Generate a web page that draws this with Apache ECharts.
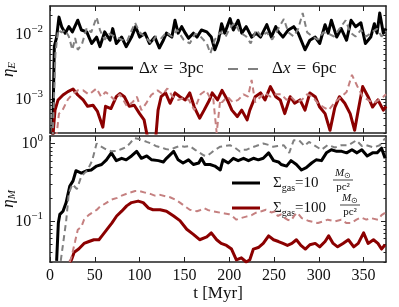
<!DOCTYPE html>
<html><head><meta charset="utf-8">
<script src="https://cdn.jsdelivr.net/npm/echarts@6/dist/echarts.min.js"></script>
<style>html,body{margin:0;padding:0;background:#fff}#c{width:399px;height:307px}</style>
</head><body><div id="c"></div>
<script>
// ---------- data (time in Myr, efficiencies) ----------
// top panel: energy loading eta_E
const tE_3pc_10 = [3,4.8,7.4,10,13,17,21,25,31,35,41,46.5,52,55.8,61,67,70,74,80,85,91,95.6,100,106,111,117,122,126.5,130,136,139.5,143,147,151,154.6,160,164,169,175,180,184,188,191.5,195,201,204.6,210,214,219,225,230,235,242,247,252,255,260,266,272,277,284.6,290,296,301,307,310.5,314,320,325,331,336,341,347,352,358,362,365,368,372,375];
const etaE_3pc_10 = [0.00025,0.0066,0.0093,0.019,0.0135,0.0107,0.0135,0.0112,0.017,0.012,0.0112,0.0074,0.0093,0.0066,0.0112,0.0083,0.0126,0.0074,0.0093,0.0066,0.0093,0.0135,0.0093,0.0107,0.0074,0.0093,0.0063,0.0083,0.0107,0.0093,0.017,0.0107,0.0135,0.0107,0.0089,0.0107,0.0093,0.012,0.0112,0.0093,0.0059,0.0083,0.015,0.0107,0.018,0.012,0.017,0.0107,0.0135,0.0093,0.0107,0.0093,0.0145,0.0093,0.0135,0.0112,0.0093,0.012,0.0135,0.0107,0.0059,0.0083,0.0093,0.0074,0.0145,0.0107,0.017,0.0093,0.0126,0.0083,0.017,0.0135,0.0155,0.0074,0.0093,0.015,0.0107,0.022,0.0107,0.0126];
const tE_6pc_10 = [3,6,9,13,17,21,25,28,31,35.5,41,46,52,56,61,66,72,80,86,90,95,100,106,113,118,124,130,136,142,149,156,162,168,175,179,184,190,196,201,206,212,219,224,230,236,242,248,254,261,266,272,277,282,287,293,299,305,311,317,323,330,335,341,347,353,359,365,370,375];
const etaE_6pc_10 = [0.00025,0.005,0.012,0.011,0.012,0.0095,0.0059,0.009,0.0059,0.0071,0.0129,0.011,0.019,0.0117,0.0085,0.0105,0.0095,0.0085,0.008,0.011,0.0155,0.011,0.0095,0.0074,0.0095,0.0089,0.011,0.0095,0.012,0.0085,0.0074,0.0105,0.0095,0.0074,0.0052,0.0085,0.011,0.0095,0.013,0.0155,0.011,0.0095,0.0074,0.012,0.0095,0.011,0.0085,0.012,0.0178,0.011,0.0095,0.0125,0.022,0.011,0.0095,0.0085,0.011,0.0105,0.0095,0.0125,0.017,0.011,0.0095,0.012,0.0095,0.011,0.0125,0.0095,0.0115];
const tE_3pc_100 = [3,5.6,9,14.5,20,25.7,31,37,42,48,53,59,62,68,74,78,83,88.5,94,100,105,109,113,118,120.6,124,129,134,139.5,145,151,156,161,167,172,178,181,187,192,198,203,209,214,220,223,229,235,240,246,252,257,262,268,273,279,284.6,290,296,301,307,312.5,318,323,329,335,340,344,349,355,360,366,372,375];
const etaE_3pc_100 = [0.00025,0.00068,0.00098,0.00117,0.00132,0.00145,0.00117,0.00098,0.00078,0.00081,0.00065,0.00037,0.00078,0.00072,0.0011,0.00123,0.0011,0.00078,0.00081,0.0006,0.00048,0.00025,0.0002,0.00025,0.00068,0.0011,0.00126,0.00087,0.00126,0.0011,0.00098,0.00126,0.00076,0.00051,0.00068,0.00098,0.00126,0.00098,0.00138,0.00098,0.00068,0.00054,0.00068,0.00048,0.00068,0.0011,0.00126,0.00098,0.00158,0.0011,0.00098,0.0006,0.0011,0.00087,0.00098,0.00068,0.00126,0.0011,0.00076,0.0006,0.00033,0.00076,0.0011,0.00087,0.0006,0.00033,0.00068,0.00158,0.0011,0.00076,0.00098,0.00068,0.00078];
const tE_6pc_100 = [7,10,14,20,25,31,37,43,47,52,57,62,67,72,78,86,92,97,102,108,113,120,126,131,137,143,149,155,161,168,174,178,182,186,190,192,198,204,210,216,221,225,229,235,240,246,252,258,264,269,275,281,287,293,299,305,311,318,325,331,337,343,349,355,361,367,372,375];
const etaE_6pc_100 = [0.00025,0.0006,0.00068,0.001,0.0012,0.00138,0.00138,0.0012,0.0013,0.00148,0.0011,0.0013,0.00115,0.00098,0.0012,0.00078,0.0009,0.0011,0.00068,0.0009,0.00117,0.00138,0.0012,0.00148,0.0011,0.00098,0.00105,0.00098,0.00068,0.0012,0.00138,0.0011,0.0011,0.0003,0.00098,0.0009,0.0011,0.0009,0.00098,0.0012,0.0011,0.002,0.0009,0.0011,0.00126,0.0011,0.0012,0.0012,0.00098,0.0011,0.0009,0.00098,0.0012,0.0011,0.00087,0.00076,0.00068,0.0009,0.0011,0.0013,0.0024,0.0016,0.0011,0.00098,0.00087,0.00098,0.0011,0.0012];
// bottom panel: mass loading eta_M
const tM_3pc_10 = [7.4,9.3,11,14.5,18,22,25.7,29,35,40.6,46,52,57.6,63,68.5,74,80,85,91,96.7,102,108,113.5,121,126.5,130,138,143,148.5,154.6,160,166,169,173,178.6,184,190,193,199,204.6,210,216,221.5,227,232.5,238,244,249.5,255,258,264,269,275,280.6,286,292,297,303,308.5,314,320,325.6,331,337,342.6,348,354,360,365,370,374];
const etaM_3pc_10 = [0.031,0.095,0.123,0.135,0.174,0.282,0.331,0.447,0.417,0.447,0.457,0.513,0.537,0.617,0.759,0.603,0.646,0.617,0.692,0.794,0.646,0.692,0.617,0.603,0.58,0.646,0.794,0.617,0.562,0.617,0.537,0.562,0.646,0.537,0.537,0.513,0.457,0.617,0.562,0.646,0.603,0.646,0.603,0.646,0.617,0.646,0.759,0.603,0.58,0.537,0.513,0.603,0.537,0.457,0.49,0.562,0.617,0.603,0.759,0.832,0.794,0.794,0.759,0.832,0.759,0.832,0.692,0.759,0.759,0.871,0.646];
const tM_6pc_10 = [12,18,21,25,30,35,42,47,52,56,62,68.5,74,80,85,89,94,98,102,108,113,118,124,129,134,140,145,150,156,162,167,172,175,180,184,190,195,201,206,212,216,219,225,230,238,244,249,254,261,267,272,278,284,289,295,303,310,318,325,333,342,348,352,361,368,374];
const etaM_6pc_10 = [0.031,0.1,0.23,0.3,0.26,0.38,0.457,0.6,1.0,0.93,0.85,0.794,0.8,0.85,0.9,1.0,1.17,1.15,1.12,1.05,1.0,0.93,0.89,0.85,0.83,0.89,0.93,0.91,0.93,0.83,0.76,0.7,0.69,0.76,0.83,0.91,0.93,0.95,0.89,0.79,0.83,0.83,0.89,0.93,1.0,0.96,0.91,0.93,0.95,0.76,1.1,1.1,0.93,1.05,0.95,0.83,0.96,0.89,0.95,0.95,1.1,0.93,0.96,0.89,0.95,1.17];
const tM_3pc_100 = [22,24,27,32,38,43.5,49,54.6,58,63.6,69,74.4,80,85.6,91,98.4,104,110,115,123,130,138,145,152.6,160,167,175,180,186,191,197,202.6,208,213.6,219,223,227,232.5,238,244,249.5,255,260,265,270,275,280,285,290,296,301,307,311,316,321,327,333,339,344,350,355,361,366,370,374];
const etaM_3pc_100 = [0.03,0.032,0.04,0.044,0.052,0.055,0.058,0.058,0.065,0.079,0.095,0.117,0.135,0.158,0.174,0.182,0.174,0.148,0.141,0.141,0.135,0.117,0.102,0.079,0.068,0.058,0.063,0.071,0.058,0.052,0.049,0.044,0.032,0.034,0.03,0.032,0.044,0.046,0.052,0.065,0.058,0.055,0.052,0.049,0.052,0.058,0.049,0.044,0.05,0.052,0.047,0.055,0.065,0.052,0.047,0.052,0.058,0.047,0.052,0.071,0.052,0.058,0.052,0.044,0.05];
const tM_6pc_100 = [22,24,28,31,35,38,43,47,52,56,62,68.5,75,80,89,95,100,106,112,117,123,129,134,140,145,150,156,160,164,168,172,176,181,186,190,195,200,204,208,213,219,225,230,236,241,247,252,254,258,261,265,269,273,276,281,288,294,299,305,310,318,325,331,336,342,347,353,358,366,370,374];
const etaM_6pc_100 = [0.03,0.035,0.055,0.078,0.085,0.105,0.12,0.129,0.14,0.155,0.17,0.19,0.2,0.214,0.234,0.245,0.245,0.234,0.225,0.214,0.219,0.21,0.204,0.19,0.174,0.158,0.141,0.138,0.135,0.14,0.148,0.14,0.135,0.132,0.129,0.126,0.123,0.115,0.105,0.11,0.115,0.12,0.129,0.135,0.141,0.13,0.135,0.117,0.123,0.112,0.105,0.102,0.12,0.129,0.11,0.102,0.098,0.095,0.1,0.105,0.1,0.105,0.095,0.095,0.105,0.112,0.105,0.11,0.105,0.12,0.129];

// axis settings
const xTicks = [0,50,100,150,200,250,300,350];
const yTopMajor = [1e-3, 1e-2];
const yBotMajor = [1e-1, 1];
const yTopRange = [3e-4, 0.0283];
const yBotRange = [0.03, 1.25];

// ---------- build ----------
const FONT = 'Liberation Serif';
const L10 = Math.log10;
function pts(t, v){ return t.map((x,i)=>[x, L10(v[i])]); }
function minors(lo, hi){
  const out=[];
  for (let e=-5;e<=1;e++) for (let k=2;k<=9;k++){ const v=k*Math.pow(10,e); if (v>=lo && v<=hi) out.push(L10(v)); }
  return out;
}
const AX = '#222';
const NAME_RICH = { i:{fontFamily:FONT, fontStyle:'italic', fontSize:17, color:'#111', lineHeight:18},
                    sub:{fontFamily:FONT, fontStyle:'italic', fontSize:11, color:'#111', verticalAlign:'bottom', lineHeight:18} };
function yMajor(grid, pos, majors, range, labels, name){
  return {
    type:'value', gridIndex:grid, position:pos, min:L10(range[0]), max:L10(range[1]),
    name: name || '', nameLocation:'middle', nameRotate:90, nameGap:32, nameMoveOverlap:false, nameTextStyle:{rich:NAME_RICH},
    axisLine:{show:true, onZero:false, lineStyle:{color:AX, width:1.5}},
    axisTick:{show:true, inside:true, length:5, customValues:majors.map(L10), lineStyle:{color:AX, width:1}},
    axisLabel:{show:labels, customValues:majors.map(L10), margin:7,
      formatter:(v)=>{ const e=Math.round(v); return '{b|10}{s|' + (e<0?'\u2212'+(-e):e) + '}'; },
      rich:{ b:{fontFamily:FONT, fontSize:16, color:'#111', lineHeight:22}, s:{fontFamily:FONT, fontSize:11, color:'#111', verticalAlign:'top', lineHeight:11} } },
    splitLine:{show:false}
  };
}
function yMinor(grid, pos, range){
  return {
    type:'value', gridIndex:grid, position:pos, min:L10(range[0]), max:L10(range[1]),
    axisLine:{show:false, onZero:false},
    axisTick:{show:true, inside:true, length:2.5, customValues:minors(range[0], range[1]), lineStyle:{color:AX, width:1}},
    axisLabel:{show:false}, splitLine:{show:false}
  };
}
function xAx(grid, pos, labels){
  return {
    type:'value', gridIndex:grid, position:pos, min:0, max:375,
    axisLine:{show:true, onZero:false, lineStyle:{color:AX, width:1.5}},
    axisTick:{show:true, inside:true, length:5, customValues:xTicks, lineStyle:{color:AX, width:1}},
    axisLabel:{show:labels, customValues:xTicks, margin:6, fontFamily:FONT, fontSize:16, color:'#111'},
    splitLine:{show:false}
  };
}
const BLACK='#000', GRAY='#808080', RED='#8b0000', PINK='#c58080';
function ser(data, xi, yi, color, dashed){
  return { type:'line', data, xAxisIndex:xi, yAxisIndex:yi, showSymbol:false, symbol:'none', silent:true,
    animation:false, clip:true,
    lineStyle: dashed ? {color, width:2, type:[6,4]} : {color, width:3, join:'round'} };
}
const R17 = {fontFamily:FONT, fontSize:17, fill:'#111'};
const I17 = {fontFamily:FONT, fontStyle:'italic', fontSize:17, fill:'#111'};
const EQ17 = {fontFamily:FONT, fontSize:17, fill:'#111', padding:[0,6]};

const option = {
  animation:false,
  grid:[ {left:50, top:6, width:336, height:127, containLabel:false, outerBoundsMode:'none'},
         {left:50, top:136, width:336, height:126, containLabel:false, outerBoundsMode:'none'} ],
  xAxis:[ xAx(0,'bottom',false), xAx(0,'top',false), xAx(1,'bottom',true), xAx(1,'top',false) ],
  yAxis:[
    yMajor(0,'left',yTopMajor,yTopRange,true,'{i|η}{sub|E}'), yMinor(0,'left',yTopRange),
    yMajor(0,'right',yTopMajor,yTopRange,false), yMinor(0,'right',yTopRange),
    yMajor(1,'left',yBotMajor,yBotRange,true,'{i|η}{sub|M}'), yMinor(1,'left',yBotRange),
    yMajor(1,'right',yBotMajor,yBotRange,false), yMinor(1,'right',yBotRange)
  ],
  series:[
    ser(pts(tE_3pc_10, etaE_3pc_10), 0, 0, BLACK, false),
    ser(pts(tE_3pc_100, etaE_3pc_100), 0, 0, RED, false),
    ser(pts(tE_6pc_10, etaE_6pc_10), 0, 0, GRAY, true),
    ser(pts(tE_6pc_100, etaE_6pc_100), 0, 0, PINK, true),
    ser(pts(tM_3pc_10, etaM_3pc_10), 2, 4, BLACK, false),
    ser(pts(tM_3pc_100, etaM_3pc_100), 2, 4, RED, false),
    ser(pts(tM_6pc_10, etaM_6pc_10), 2, 4, GRAY, true),
    ser(pts(tM_6pc_100, etaM_6pc_100), 2, 4, PINK, true)
  ],
  graphic:[
    {type:'text', x:218, y:294, style:{text:'t [Myr]', align:'center', verticalAlign:'middle', font:'17px "Liberation Serif"', fill:'#111'}},
    // top legend
    {type:'line', shape:{x1:98, y1:68, x2:133, y2:68}, style:{stroke:BLACK, lineWidth:3}},
    {type:'text', x:139, y:69, style:{text:'{r|Δ}{i|x}{eq|=}{r|3pc}', align:'left', verticalAlign:'middle', rich:{ r:R17, i:I17, eq:EQ17 } }},
    {type:'line', shape:{x1:228, y1:69, x2:258, y2:69}, style:{stroke:GRAY, lineWidth:2, lineDash:[10,10]}},
    {type:'text', x:272, y:69, style:{text:'{r|Δ}{i|x}{eq|=}{r|6pc}', align:'left', verticalAlign:'middle', rich:{ r:R17, i:I17, eq:EQ17 } }},
    // bottom legend
    {type:'line', shape:{x1:232, y1:183, x2:260, y2:183}, style:{stroke:BLACK, lineWidth:3}},
    {type:'line', shape:{x1:232, y1:208, x2:260, y2:208}, style:{stroke:RED, lineWidth:3}},
    {type:'text', x:273, y:183, style:{text:'{r|Σ}{sub|gas}{r|=10}', align:'left', verticalAlign:'middle',
      rich:{ r:{fontFamily:FONT, fontSize:15, fill:'#111'}, sub:{fontFamily:FONT, fontSize:10, fill:'#111', verticalAlign:'bottom', lineHeight:20} } }},
    {type:'text', x:343, y:173, style:{text:'{i|M}{sub|⊙}', align:'center', verticalAlign:'middle',
      rich:{ i:{fontFamily:FONT, fontStyle:'italic', fontSize:11, fill:'#111'}, sub:{fontFamily:FONT, fontSize:8, fill:'#111', verticalAlign:'bottom', lineHeight:14} } }},
    {type:'line', shape:{x1:333, y1:180, x2:353, y2:180}, style:{stroke:'#111', lineWidth:0.8}},
    {type:'text', x:343, y:187, style:{text:'pc²', align:'center', verticalAlign:'middle', font:'11px "Liberation Serif"', fill:'#111'}},
    {type:'text', x:273, y:208, style:{text:'{r|Σ}{sub|gas}{r|=100}', align:'left', verticalAlign:'middle',
      rich:{ r:{fontFamily:FONT, fontSize:15, fill:'#111'}, sub:{fontFamily:FONT, fontSize:10, fill:'#111', verticalAlign:'bottom', lineHeight:20} } }},
    {type:'text', x:350, y:198, style:{text:'{i|M}{sub|⊙}', align:'center', verticalAlign:'middle',
      rich:{ i:{fontFamily:FONT, fontStyle:'italic', fontSize:11, fill:'#111'}, sub:{fontFamily:FONT, fontSize:8, fill:'#111', verticalAlign:'bottom', lineHeight:14} } }},
    {type:'line', shape:{x1:340, y1:205, x2:360, y2:205}, style:{stroke:'#111', lineWidth:0.8}},
    {type:'text', x:350, y:212, style:{text:'pc²', align:'center', verticalAlign:'middle', font:'11px "Liberation Serif"', fill:'#111'}}
  ]
};
const chart = echarts.init(document.getElementById('c'), null, {renderer:'canvas'});
chart.setOption(option);
</script></body></html>
